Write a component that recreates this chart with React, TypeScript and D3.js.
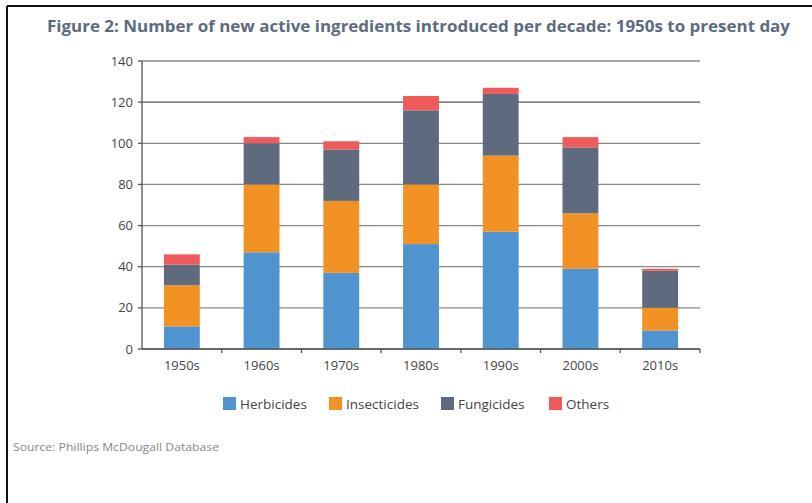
import React from "react";
import * as d3 from "d3";

const decades = ["1950s", "1960s", "1970s", "1980s", "1990s", "2000s", "2010s"];
const herbicides = [11, 47, 37, 51, 57, 39, 9];
const insecticides = [20, 33, 35, 29, 37, 27, 11];
const fungicides = [10, 20, 25, 36, 30, 32, 18];
const others = [5, 3, 4, 7, 3, 5, 1];
const seriesNames = ["Herbicides", "Insecticides", "Fungicides", "Others"];
const seriesColors = ["#4F94CF", "#F39224", "#5E6B7E", "#EF5A5A"];
const yTicks = [0, 20, 40, 60, 80, 100, 120, 140];

const W = 812;
const H = 503;
const m = { left: 142, right: 700, top: 61, bottom: 349 };

export default function App() {
  const x = d3.scaleBand().domain(decades).range([m.left, m.right]).paddingInner(0.55).paddingOuter(0.275);
  const xOuter = d3.scaleBand().domain(decades).range([m.left, m.right]);
  const y = d3.scaleLinear().domain([0, 140]).range([m.bottom, m.top]);

  const rows = decades.map((d, i) => ({
    decade: d,
    Herbicides: herbicides[i],
    Insecticides: insecticides[i],
    Fungicides: fungicides[i],
    Others: others[i],
  }));
  const stack = d3.stack<any>().keys(seriesNames)(rows);
  const font = "'Open Sans', sans-serif";

  const legendX = [223, 329, 441, 549];

  return (
    <svg width={W} height={H} style={{ position: "fixed", left: 0, top: 0 }} fontFamily={font}>
      <rect x={0} y={0} width={W} height={H} fill="#fff" />
      <line x1={7} y1={6} x2={W} y2={6} stroke="#111" strokeWidth={2} />
      <line x1={7} y1={6} x2={7} y2={H} stroke="#111" strokeWidth={2} />
      <text x={47} y={32} fontSize={16.5} fontWeight={700} fill="#5C6B7E" textLength={743} lengthAdjust="spacingAndGlyphs">
        Figure 2: Number of new active ingredients introduced per decade: 1950s to present day
      </text>
      {yTicks.map((t) => (
        <g key={t}>
          <line x1={m.left} x2={m.right} y1={y(t)} y2={y(t)} stroke={t === 120 ? "#555" : "#888"} strokeWidth={1.3} />
          <line x1={m.left - 4} x2={m.left} y1={y(t)} y2={y(t)} stroke="#555" strokeWidth={1.3} />
          <text x={133} y={y(t)} dy="0.35em" textAnchor="end" fontSize={13} fill="#444">
            {t}
          </text>
        </g>
      ))}
      {stack.map((s, si) =>
        s.map((seg, i) => (
          <rect
            key={si + "-" + i}
            x={x(decades[i])}
            width={x.bandwidth()}
            y={y(seg[1])}
            height={y(seg[0]) - y(seg[1])}
            fill={seriesColors[si]}
          />
        ))
      )}
      <line x1={m.left} x2={m.left} y1={m.top} y2={m.bottom} stroke="#555" strokeWidth={1.3} />
      <line x1={m.left} x2={m.right} y1={m.bottom} y2={m.bottom} stroke="#555" strokeWidth={1.5} />
      {decades.map((d) => (
        <line key={d} x1={(xOuter(d) as number) + xOuter.bandwidth()} x2={(xOuter(d) as number) + xOuter.bandwidth()} y1={m.bottom} y2={m.bottom + 4} stroke="#555" strokeWidth={1.3} />
      ))}
      {decades.map((d) => (
        <text key={d} x={(x(d) as number) + x.bandwidth() / 2} y={370} textAnchor="middle" fontSize={13} fill="#444">
          {d}
        </text>
      ))}
      {seriesNames.map((n, i) => (
        <g key={n}>
          <rect x={legendX[i]} y={397} width={13} height={13} fill={seriesColors[i]} />
          <text x={legendX[i] + 17} y={404} dy="0.35em" fontSize={13.5} fill="#444">
            {n}
          </text>
        </g>
      ))}
      <text x={13} y={451} fontSize={11.5} fill="#888" textLength={206} lengthAdjust="spacingAndGlyphs">
        Source: Phillips McDougall Database
      </text>
    </svg>
  );
}
